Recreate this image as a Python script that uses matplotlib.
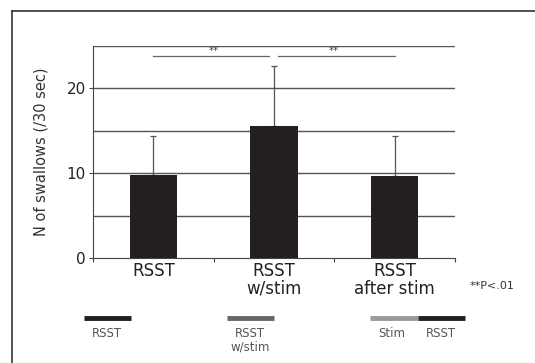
import matplotlib
matplotlib.use("Agg")
import matplotlib.pyplot as plt
import numpy as np
from matplotlib.lines import Line2D

plt.rcParams.update({"font.family": "DejaVu Sans"})

# data
categories = ["RSST", "RSST\nw/stim", "RSST\nafter stim"]
means = [9.8, 15.6, 9.7]
sd = [4.6, 7.1, 4.7]
sig_pairs = [(0, 1), (1, 2)]
sig_y = 23.8

W, H = 535, 363
fig = plt.figure(figsize=(W / 100, H / 100), dpi=100)

# outer frame (only left/top visible in the crop)
fig.add_artist(Line2D([12 / W, 12 / W], [0, 1 - 11 / H], color="#333333", lw=1.2))
fig.add_artist(Line2D([12 / W, 1], [1 - 11 / H, 1 - 11 / H], color="#333333", lw=1.2))

ax = fig.add_axes([93 / W, 1 - 258 / H, (455 - 93) / W, (258 - 46) / H])
x = np.arange(len(categories))
ax.bar(x, means, width=0.39, color="#231f20", zorder=3)
ax.errorbar(x, means, yerr=[np.zeros(len(sd)), sd], fmt="none", ecolor="#555555",
            elinewidth=0.9, capsize=2.5, capthick=0.9, zorder=2)

for yv in [5, 10, 15, 20, 25]:
    ax.axhline(yv, color="#555555", lw=1.0, zorder=1)

ax.set_xlim(-0.5, 2.5)
ax.set_ylim(0, 25)
for s in ["top", "right"]:
    ax.spines[s].set_visible(False)
ax.spines["left"].set_color("#444444")
ax.spines["bottom"].set_color("#444444")
ax.set_yticks([0, 10, 20])
ax.tick_params(axis="y", labelsize=11, length=3, color="#444444", pad=2,
               labelcolor="#222222")
ax.set_xticks([-0.5, 0.5, 1.5, 2.5])
ax.set_xticklabels([])
ax.tick_params(axis="x", length=3, color="#444444")
for xi, lab in zip(x, categories):
    ax.text(xi, -0.5, lab, ha="center", va="top", fontsize=12,
            linespacing=0.95, color="#222222", transform=ax.transData)
ax.set_ylabel("N of swallows (/30 sec)", fontsize=10.5, labelpad=13, color="#333333")

# significance brackets
for (a, b), (g0, g1) in zip(sig_pairs, [(0.0, 0.04), (0.035, 0.0)]):
    ax.plot([a + g0, b - g1], [sig_y, sig_y], color="#666666", lw=0.9, clip_on=False)
    ax.text((a + b) / 2, sig_y + 0.05, "**", ha="center", va="bottom", fontsize=7.5,
            color="#444444")

fig.text(470 / W, 1 - 286 / H, "**P<.01", fontsize=8, color="#333333",
         ha="left", va="center")

# protocol legend below the chart
lg = fig.add_axes([0, 0, 1, 1])
lg.set_xlim(0, W)
lg.set_ylim(H, 0)
lg.axis("off")
segments = [(84, 131, "#231f20"), (227, 274, "#666666"),
            (370, 418, "#999999"), (418, 465, "#231f20")]
for x0, x1, c in segments:
    lg.plot([x0, x1], [318, 318], color=c, lw=3.5, solid_capstyle="butt")
labels = [(107, "RSST"), (250, "RSST\nw/stim"), (392, "Stim"), (441, "RSST")]
for xc, t in labels:
    lg.text(xc, 327, t, ha="center", va="top", fontsize=8.5, color="#555555",
            linespacing=1.05)

fig.savefig("out.png", dpi=100)
